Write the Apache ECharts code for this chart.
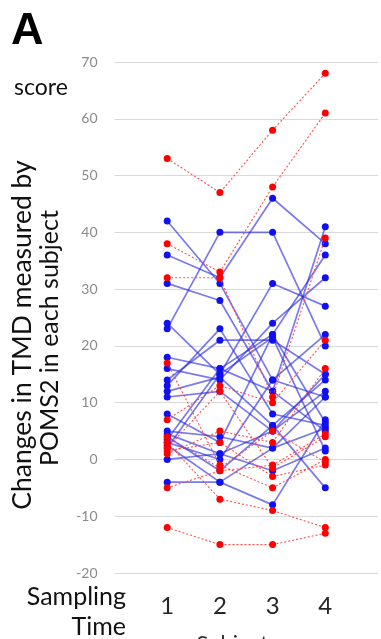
<!DOCTYPE html>
<html>
<head>
<meta charset="utf-8">
<script src="https://cdn.jsdelivr.net/npm/echarts@6/dist/echarts.min.js"></script>
<style>
  html, body { margin: 0; padding: 0; background: #fff; }
  #chart { width: 381px; height: 639px; }
</style>
</head>
<body>
<div id="chart"></div>
<script>
// Sampling times shown on the x axis
const samplingTimes = [1, 2, 3, 4];

// Y axis ticks (score)
const yTicks = { min: -20, max: 70, step: 10 };

// Change in TMD score per subject at sampling times 1..4 (blue group)
const blueScores = [
  [42, 31, 14, 11],
  [36, 32, 46, 38],
  [23, 40, 40, 20],
  [31, 28, 12, 41],
  [24, 15, 31, 27],
  [18, 16, 22, 36],
  [16, 14, 24, 32],
  [14, 21, 21, 15],
  [13, 23, 8, 6],
  [12, 14.5, 6, 14],
  [11, 12, 5, 12],
  [8, 3, 22, 6.5],
  [5, 4, 2, 5.5],
  [4.5, 1, -2, 2],
  [4, -2, 6, -5],
  [3, 0, 14, 22],
  [2.5, -4, -8, 7],
  [2, 15, 21.5, 1.5],
  [0, 1, 5, 15],
  [-4, -4, 2, 11],
  [3.5, 16, 12, 5]
];

// Change in TMD score per subject at sampling times 1..4 (red group)
const redScores = [
  [53, 47, 58, 68],
  [38, 33, 48, 61],
  [32, 32, 11, 39],
  [17, -1, -5, 0],
  [7, 13, 10, 21],
  [1, 5, 3, 16],
  [-5, -2, -1, 4.5],
  [-12, -15, -15, -13],
  [3, -7, -9, -12],
  [1.5, 3, -3, -1],
  [4, -1.5, 5, -0.5],
  [2, 12, -1.5, 4]
];

const chart = echarts.init(document.getElementById('chart'), null, { renderer: 'canvas' });

const TEXT_FONT = 'Lato, "Open Sans", sans-serif';

function subjectSeries(scores, color, lineColor, lineType, lineWidth, z) {
  return scores.map((row, i) => ({
    type: 'line',
    name: color + i,
    data: row.map((v, k) => [samplingTimes[k], v]),
    symbol: 'circle',
    symbolSize: 7,
    showSymbol: true,
    itemStyle: { color: color },
    lineStyle: { color: lineColor, width: lineWidth, type: lineType },
    emphasis: { disabled: true },
    silent: true,
    animation: false,
    z: z
  }));
}

const series = []
  .concat(subjectSeries(blueScores, '#1010f0', 'rgba(40,40,225,0.62)', 'solid', 1.7, 2))
  .concat(subjectSeries(redScores, '#ff0000', 'rgba(255,60,60,0.9)', [2, 2], 1.1, 3));

chart.setOption({
  animation: false,
  backgroundColor: '#ffffff',
  grid: { left: 114.5, top: 62, width: 271, height: 511, containLabel: false },
  xAxis: {
    type: 'value',
    min: 0,
    max: 5,
    interval: 1,
    axisLine: { show: false },
    axisTick: { show: false },
    splitLine: { show: false },
    axisLabel: {
      margin: 21,
      fontSize: 24,
      color: '#262626',
      fontFamily: TEXT_FONT,
      formatter: v => (samplingTimes.indexOf(v) >= 0 ? String(v) : '')
    }
  },
  yAxis: {
    type: 'value',
    min: yTicks.min,
    max: yTicks.max,
    interval: yTicks.step,
    axisLine: { show: false },
    axisTick: { show: false },
    splitLine: { show: true, lineStyle: { color: '#d9d9d9', width: 1.2 } },
    axisLabel: {
      margin: 17,
      fontSize: 14,
      color: '#8a8a8a',
      fontFamily: TEXT_FONT
    }
  },
  graphic: [
    {
      type: 'text', left: 11, top: 9,
      style: { text: 'A', font: 'bold 45px "Liberation Sans", Arial, sans-serif', fill: '#000' }
    },
    {
      type: 'text', x: 14, y: 88,
      style: { text: 'score', font: '23px ' + TEXT_FONT, fill: '#111', textVerticalAlign: 'middle' }
    },
    {
      type: 'text', x: 22, y: 335, rotation: Math.PI / 2,
      style: {
        text: 'Changes in TMD measured by',
        font: '26.5px ' + TEXT_FONT, fill: '#111',
        textAlign: 'center', textVerticalAlign: 'middle'
      }
    },
    {
      type: 'text', x: 50, y: 338, rotation: Math.PI / 2,
      style: {
        text: 'POMS2 in each subject',
        font: '25px ' + TEXT_FONT, fill: '#111',
        textAlign: 'center', textVerticalAlign: 'middle'
      }
    },
    {
      type: 'text', x: 126, y: 597,
      style: {
        text: 'Sampling', font: '25px ' + TEXT_FONT, fill: '#111',
        textAlign: 'right', textVerticalAlign: 'middle'
      }
    },
    {
      type: 'text', x: 126, y: 627,
      style: {
        text: 'Time', font: '25px ' + TEXT_FONT, fill: '#111',
        textAlign: 'right', textVerticalAlign: 'middle'
      }
    },
    {
      type: 'text', x: 237, y: 633,
      style: {
        text: 'Subjects', font: '22px ' + TEXT_FONT, fill: '#333',
        textAlign: 'center', textVerticalAlign: 'top'
      }
    }
  ],
  series: series
});
</script>
</body>
</html>
